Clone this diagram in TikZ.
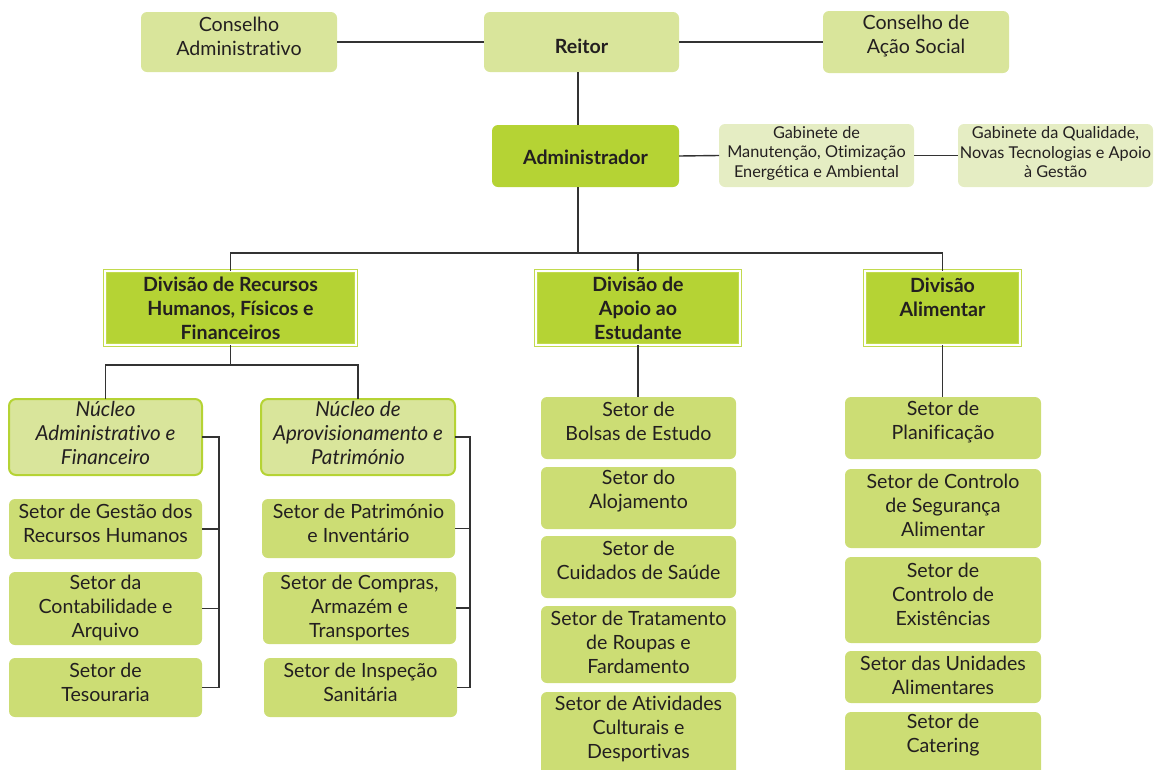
\documentclass[tikz,border=0pt]{standalone}
\usepackage{fontspec}
\setmainfont{Lato}[Ligatures=NoCommon]
\definecolor{ink}{HTML}{231F20}
\definecolor{wire}{HTML}{333333}
\definecolor{paleg}{HTML}{D9E59B}
\definecolor{softg}{HTML}{E5EDC3}
\definecolor{midg}{HTML}{CCDD74}
\definecolor{brightg}{HTML}{B5D334}
\definecolor{edgeg}{HTML}{C2DA4E}

% box + centred caption: name, box style, text style, cx, cy, w, h, text y, text
\newcommand\orgbox[9]{%
  \node[#2, minimum width=#6pt, minimum height=#7pt] (#1) at (#4,#5) {};
  \node[#3] (#1-t) at (#4,#8) {#9};}

\begin{document}
\begin{tikzpicture}[x=1pt, y=-1pt,
  box/.style={inner sep=0pt, outer sep=0pt},
  pale/.style={box, fill=paleg, rounded corners=6pt},
  soft/.style={box, fill=softg, rounded corners=6pt},
  setor/.style={box, fill=midg, rounded corners=6pt},
  chief/.style={box, fill=brightg, rounded corners=6pt},
  nucleo/.style={box, fill=paleg, draw=brightg, line width=2pt, rounded corners=7pt},
  divisao/.style={box, fill=brightg, draw=edgeg, line width=1pt, double=white, double distance=1.3pt},
  txt/.style={align=center, inner sep=0pt, text=ink, font=\fontsize{19.6}{24}\selectfont},
  smalltxt/.style={align=center, inner sep=0pt, text=ink, font=\fontsize{16.3}{19.5}\selectfont},
  boldtxt/.style={align=center, inner sep=0pt, text=ink, font=\fontsize{19.6}{24}\selectfont\bfseries},
  itxt/.style={align=center, inner sep=0pt, text=ink, font=\fontsize{20.6}{24}\selectfont\itshape},
  link/.style={draw=wire, line width=1.4pt}]

\useasboundingbox (0,0) rectangle (1154,769);

% top level
\orgbox{ca}{pale}{txt}{239}{42}{196}{60}{36}{Conselho\\Administrativo}
\orgbox{reitor}{pale}{boldtxt}{581.5}{42}{195}{60}{46}{Reitor}
\orgbox{cas}{pale}{txt}{916}{42}{186}{62}{36}{Conselho de\\Ação Social}

\orgbox{adm}{chief}{boldtxt}{585.5}{156}{187}{62}{157}{Administrador}
\orgbox{gab1}{soft}{smalltxt}{816.5}{155.5}{195}{63}{153}{Gabinete de\\Manutenção, Otimização\\Energética e Ambiental}
\orgbox{gab2}{soft}{smalltxt}{1055.5}{155.5}{195}{63}{152.5}{Gabinete da Qualidade,\\Novas Tecnologias e Apoio\\à Gestão}

% divisions
\orgbox{div1}{divisao}{boldtxt}{230.5}{308}{251}{74}{308.5}{Divisão de Recursos\\Humanos, Físicos e\\Financeiros}
\orgbox{div2}{divisao}{boldtxt}{638}{308}{204}{74}{308.5}{Divisão de\\Apoio ao\\Estudante}
\orgbox{div3}{divisao}{boldtxt}{942.5}{308}{155}{74}{297}{Divisão\\Alimentar}

% núcleos
\orgbox{nuc1}{nucleo}{itxt}{105.5}{437}{193}{76}{433}{Núcleo\\Administrativo e\\Financeiro}
\orgbox{nuc2}{nucleo}{itxt}{358}{437}{194}{76}{433}{Núcleo de\\Aprovisionamento e\\Património}

% sectors under the núcleos
\orgbox{s11}{setor}{txt}{105.5}{529}{193}{60}{523.5}{Setor de Gestão dos\\Recursos Humanos}
\orgbox{s12}{setor}{txt}{105.5}{608.5}{193}{73}{608}{Setor da\\Contabilidade e\\Arquivo}
\orgbox{s13}{setor}{txt}{105.5}{687.5}{193}{59}{682}{Setor de\\Tesouraria}
\orgbox{s21}{setor}{txt}{358.5}{528.5}{193}{59}{523}{Setor de Património\\e Inventário}
\orgbox{s22}{setor}{txt}{359.5}{608}{193}{72}{608}{Setor de Compras,\\Armazém e\\Transportes}
\orgbox{s23}{setor}{txt}{360.5}{687.5}{193}{59}{682}{Setor de Inspeção\\Sanitária}

% student support sectors
\orgbox{s31}{setor}{txt}{638.5}{428}{195}{62}{421.5}{Setor de\\Bolsas de Estudo}
\orgbox{s32}{setor}{txt}{638.5}{498}{195}{62}{491}{Setor do\\Alojamento}
\orgbox{s33}{setor}{txt}{638.5}{567}{195}{62}{560}{Setor de\\Cuidados de Saúde}
\orgbox{s34}{setor}{txt}{638.5}{644.5}{195}{77}{642}{Setor de Tratamento\\de Roupas e\\Fardamento}
\orgbox{s35}{setor}{txt}{638.5}{734}{195}{84}{729}{Setor de Atividades\\Culturais e\\Desportivas}

% food sectors
\orgbox{s41}{setor}{txt}{943}{428}{196}{62}{422}{Setor de\\Planificação}
\orgbox{s42}{setor}{txt}{943}{508.5}{196}{79}{505}{Setor de Controlo\\de Segurança\\Alimentar}
\orgbox{s43}{setor}{txt}{943}{600}{196}{86}{594}{Setor de\\Controlo de\\Existências}
\orgbox{s44}{setor}{txt}{943}{677}{196}{52}{675.5}{Setor das Unidades\\Alimentares}
\orgbox{s45}{setor}{txt}{943}{744}{196}{64}{735.5}{Setor de\\Catering}

% connectors
\coordinate (spine) at (578,0);
\draw[link] (ca.east) -- (reitor.west);
\draw[link] (reitor.east) -- (cas.west);
\draw[link] (reitor.south -| spine) -- (adm.north -| spine);
\draw[link] (adm.east) -- (gab1.west);
\draw[link] (gab1.east) -- (gab2.west);
\draw[link] (adm.south -| spine) -- ++(0,66) coordinate (bus);
\draw[link] (div1.north) -- (div1.north |- bus) -- (div3.north |- bus) -- (div3.north);
\draw[link] (div2.north) -- (div2.north |- bus);

\draw[link] (div1.south) -- ++(0,20) coordinate (fork);
\draw[link] (nuc1.north) -- (nuc1.north |- fork) -- (nuc2.north |- fork) -- (nuc2.north);

\draw[link] (nuc1.east) -- ++(17,0) coordinate (b1) -- (b1 |- s13.east) -- (s13.east);
\draw[link] (s11.east) -- (b1 |- s11.east);
\draw[link] (s12.east) -- (b1 |- s12.east);

\draw[link] (nuc2.east) -- ++(15,0) coordinate (b2) -- (b2 |- s23.east) -- (s23.east);
\draw[link] (s21.east) -- (b2 |- s21.east);
\draw[link] (s22.east) -- (b2 |- s22.east);

\draw[link] (div2.south) -- (div2.south |- s31.north);
\draw[link] (div3.south) -- (div3.south |- s41.north);
\end{tikzpicture}
\end{document}
